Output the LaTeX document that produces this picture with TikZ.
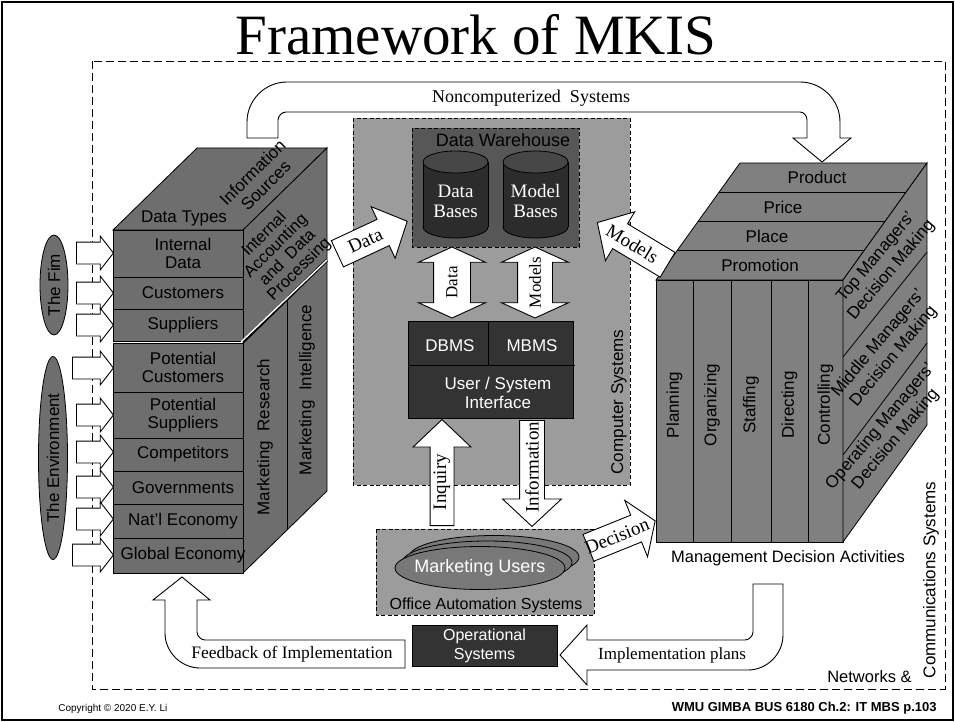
\documentclass[tikz,border=0pt]{standalone}
\usepackage{fontspec}
\setmainfont{Liberation Serif}
\setsansfont{Liberation Sans}
\usetikzlibrary{shapes.arrows, shapes.geometric, calc}

\definecolor{cubeleft}{HTML}{6E6E6E}
\definecolor{cuberight}{HTML}{808080}
\definecolor{csgray}{HTML}{9C9C9C}
\definecolor{dwgray}{HTML}{575757}
\definecolor{darkbox}{HTML}{333333}
\definecolor{cylbody}{HTML}{2C2C2C}
\definecolor{cyltop}{HTML}{474747}
\definecolor{usergray}{HTML}{787878}

\begin{document}
\begin{tikzpicture}[x=1pt, y=-1pt, line width=0.8pt,
    sanslbl/.style={font=\sffamily\fontsize{17}{18.5}\selectfont, align=center, inner sep=0pt},
    seriflbl/.style={font=\fontsize{19}{20}\selectfont, align=center, inner sep=0pt},
    mgrlbl/.style={font=\sffamily\fontsize{17}{20}\selectfont, align=center, inner sep=0pt, rotate=50},
    hollow/.style={draw=black, fill=white, line width=0.9pt},
    inarrow/.style={single arrow, hollow, inner xsep=0pt, inner ysep=10.5pt, anchor=tail, single arrow head extend=6pt, single arrow tip angle=104},
    bigarrow/.style={single arrow, hollow, inner xsep=0pt, anchor=tail},
    dblarrow/.style={double arrow, hollow, inner xsep=0pt, rotate=90, double arrow tip angle=131, minimum height=71pt},
    faceL/.style={draw=black, fill=cubeleft},
    faceR/.style={draw=black, fill=cuberight},
    dashbox/.style={draw=black, dash pattern=on 4pt off 2.5pt}]

    % ==================== frame and title ====================
    \useasboundingbox (0,0) rectangle (955,722);
    \fill[white] (0,0) rectangle (955,722);
    \draw[line width=1.3pt] (2,2) rectangle (953,720);
    \node[font=\fontsize{57}{60}\selectfont, anchor=base] (title) at (476,55) {Framework of MKIS};
    \draw[dash pattern=on 8pt off 4pt] (92,61) rectangle (945,689);
    \node[sanslbl, font=\sffamily\fontsize{16.5}{18}\selectfont, anchor=base east] (netw) at (912,682) {Networks \&};
    \node[sanslbl, rotate=90] (comms) at (931,580) {Communications Systems};

    % ==================== noncomputerized systems (U arrow) ====================
    \draw[hollow] (247,138) -- (247,122) .. controls (247,100) and (265,82) .. (287,82)
        -- (800,82) .. controls (822,82) and (840,100) .. (840,122) -- (840,138)
        -- (851,138) -- (822,162) -- (793,138) -- (807,138) -- (807,120)
        .. controls (807,116) and (804,112) .. (800,112) -- (286,112)
        .. controls (282,112) and (278,116) .. (278,120) -- (278,138) -- cycle;
    \node[seriflbl, font=\fontsize{18}{20}\selectfont] (noncomp) at (531,98) {Noncomputerized\ \ Systems};

    % ==================== left cube: information sources ====================
    \draw[faceL] (113,230) -- (197,148) -- (327,148) -- (243,230) -- cycle;
    \draw[faceL] (243,230) -- (327,148) -- (327,491) -- (243,573) -- cycle;
    \foreach \ya/\yb/\txt [count=\i] in {230/277/{Internal\\Data}, 277/309/Customers, 309/341/Suppliers,
        343/392/{Potential\\Customers}, 392/438/{Potential\\Suppliers}, 438/471/Competitors,
        471/504/Governments, 504/538/Nat'l Economy, 538/573/Global Economy} {
      \draw[faceL] (113,\ya) rectangle (243,\yb);
      \node[sanslbl] (row\i) at (183,{(\ya+\yb)/2}) {\txt};
    }
    % separator between firm and environment
    \draw[line width=3pt] (243,342) -- (327,260);
    \draw[white, line width=1.4pt] (241,342) -- (327,260);
    \draw (287,299) -- (287,530);
    \node[sanslbl] (dtypes) at (184,218) {Data Types};
    \node[sanslbl, rotate=45] (isrc) at (259,179) {Information\\Sources};
    \node[sanslbl, rotate=45, font=\sffamily\fontsize{16.5}{16.5}\selectfont] (iadp) at (282,252) {Internal\\Accounting\\and\ \ Data\\Processing};
    \node[sanslbl, rotate=90] (mres) at (265,437) {Marketing\ \ Research};
    \node[sanslbl, rotate=90] (mint) at (307,390) {Marketing\ \ Intelligence};

    % the firm / the environment
    \node[faceL, ellipse, rotate=90, minimum width=100pt, minimum height=28pt, sanslbl] (firm) at (54,285) {The Fim};
    \node[faceL, ellipse, rotate=90, minimum width=203pt, minimum height=29pt, sanslbl] (envir) at (53,458) {The Environment};

    % inputs into the data types
    \foreach \y/\x [count=\i] in {253/76, 293/76, 325/76, 368/72, 415/76, 452/76, 487/76, 519/76, 555/72}
      \node[inarrow, minimum height={113-\x}] (in\i) at (\x,\y) {};

    % ==================== computer systems ====================
    \draw[dashbox, fill=csgray] (353,118) rectangle (630,485);
    \node[sanslbl, rotate=90] (cpsys) at (619,402) {Computer Systems};
    \draw[dashbox, fill=dwgray] (412,128) rectangle (579,247);
    \node[sanslbl, font=\sffamily\fontsize{18}{20}\selectfont] (dwh) at (503,140) {Data Warehouse};

    % data bases / model bases cylinders
    \foreach \cx/\txt [count=\i] in {455.5/{Data\\Bases}, 535.5/{Model\\Bases}} {
      \draw[fill=cylbody] (\cx,227) ellipse (32.5 and 11);
      \fill[cylbody] ({\cx-32.5},162) rectangle ({\cx+32.5},227);
      \draw ({\cx-32.5},162) -- ({\cx-32.5},227) ({\cx+32.5},162) -- ({\cx+32.5},227);
      \draw[fill=cyltop] (\cx,162) ellipse (32.5 and 11);
      \node[seriflbl, text=white] (base\i) at (\cx,201) {\txt};
    }

    % data / models double arrows
    \node[dblarrow, inner ysep=18pt, double arrow head extend=15pt] (dwdata) at (452,282.5) {};
    \node[seriflbl, font=\fontsize{17}{19}\selectfont, rotate=90] (dwdatalbl) at (dwdata) {Data};
    \node[dblarrow, inner ysep=17pt, double arrow head extend=16pt] (dwmodels) at (535,282.5) {};
    \node[seriflbl, font=\fontsize{17}{19}\selectfont, rotate=90] (dwmodelslbl) at (dwmodels) {Models};

    % DBMS / MBMS / interface
    \draw[fill=darkbox] (408,321) rectangle (573,418);
    \draw (408,365) -- (575,365);
    \draw (488,321) -- (488,365);
    \node[sanslbl, text=white] (dbms) at (450,346) {DBMS};
    \node[sanslbl, text=white] (mbms) at (532,346) {MBMS};
    \node[sanslbl, text=white] (usi) at (498,393) {User / System\\Interface};

    % ==================== office automation ====================
    \draw[dashbox, fill=csgray] (376,529) rectangle (594,615);
    \draw[fill=usergray] (494,557) ellipse (85 and 21.5);
    \draw[fill=usergray] (487,562.5) ellipse (85 and 21.5);
    \draw[fill=usergray] (480,568) ellipse (85 and 21.5);
    \node[sanslbl, font=\sffamily\fontsize{18}{20}\selectfont, text=white] (musers) at (480,568) {Marketing Users};
    \node[sanslbl, font=\sffamily\fontsize{16}{18}\selectfont] (oas) at (486,605) {Office Automation Systems};

    % inquiry / information
    \node[bigarrow, rotate=90, minimum height=106pt, inner ysep=11.5pt, single arrow head extend=17pt, single arrow tip angle=93] (inq) at (442,526) {};
    \node[seriflbl, rotate=90] (inqlbl) at ($(inq.tail)!0.41!(inq.tip)$) {Inquiry};
    \node[bigarrow, rotate=-90, minimum height=106pt, inner ysep=12pt, single arrow head extend=17pt, single arrow tip angle=94] (info) at (532,420) {};
    \node[seriflbl, rotate=90] (infolbl) at ($(info.tail)!0.44!(info.tip)$) {Information};

    % ==================== right cube: management decision activities ====================
    \draw[faceR] (656,280) -- (740,163) -- (927,163) -- (843,280) -- cycle;
    \draw (719.2,192) -- (906.2,192);
    \draw (698.4,221) -- (885.4,221);
    \draw (677.5,250) -- (864.5,250);
    \node[sanslbl] (prod) at (817,177) {Product};
    \node[sanslbl] (price) at (783,207) {Price};
    \node[sanslbl] (place) at (767,236) {Place};
    \node[sanslbl] (promo) at (760,265) {Promotion};
    \foreach \xa/\xb/\txt [count=\i] in {656/693/Planning, 693/731/Organizing, 731/771/Staffing, 771/808/Directing, 808/843/Controlling} {
      \draw[faceR] (\xa,280) rectangle (\xb,542);
      \node[sanslbl, rotate=90] (act\i) at ({(\xa+\xb)/2},405) {\txt};
    }
    \draw[faceR] (843,280) -- (927,163) -- (927,425) -- (843,542) -- cycle;
    \draw (843,357) -- (927,252);
    \draw (843,455) -- (927,343);
    \node[mgrlbl] (topm) at (884,264) {Top Managers'\\Decision Making};
    \node[mgrlbl] (midm) at (886,350) {Middle Managers'\\Decision Making};
    \node[mgrlbl] (opm) at (888,433) {Operating Managers'\\Decision Making};
    \node[sanslbl, font=\sffamily\fontsize{16.5}{18}\selectfont] (mda) at (788,558) {Management Decision Activities};

    % ==================== data / models / decision arrows ====================
    \node[bigarrow, rotate=25, minimum height=77pt, inner ysep=14pt, single arrow head extend=14pt, single arrow tip angle=94] (dataarr) at (337,254) {};
    \node[seriflbl, rotate=25] (datalbl) at ($(dataarr.tail)!0.4!(dataarr.tip)$) {Data};
    \node[bigarrow, rotate=149, minimum height=82pt, inner ysep=14pt, single arrow head extend=14pt, single arrow tip angle=94] (modarr) at (668,265) {};
    \node[seriflbl, rotate=-31] (modlbl) at ($(modarr.tail)!0.5!(modarr.tip)$) {Models};
    \node[bigarrow, rotate=22, minimum height=72pt, inner ysep=14pt, single arrow head extend=16pt, single arrow tip angle=112] (decarr) at (588,548) {};
    \node[seriflbl, rotate=22] (declbl) at ($(decarr.tail)!0.43!(decarr.tip)$) {Decision};

    % ==================== implementation loop ====================
    \node[draw, fill=darkbox, minimum width=145pt, minimum height=41pt, sanslbl, font=\sffamily\fontsize{16}{19}\selectfont, text=white] (opsys) at (484.5,645.5) {Operational\\Systems};
    \draw[hollow] (753,584) -- (783,584) -- (783,635) .. controls (783,654) and (767,670) .. (748,670)
        -- (587,670) -- (587,685) -- (560,655) -- (587,625) -- (587,640) -- (745,640)
        .. controls (749,640) and (753,636) .. (753,632) -- cycle;
    \node[seriflbl, font=\fontsize{17}{19}\selectfont] (implbl) at (672,655) {Implementation plans};
    \draw[hollow] (405,640) -- (205,640) .. controls (201,640) and (197,636) .. (197,632)
        -- (197,600) -- (210,600) -- (182,577) -- (153,600) -- (165,600) -- (165,633)
        .. controls (165,652) and (181,668) .. (200,668) -- (405,668) -- cycle;
    \node[seriflbl, font=\fontsize{17.5}{19}\selectfont] (fblbl) at (292,654) {Feedback of Implementation};

    % ==================== footer ====================
    \node[font=\sffamily\fontsize{10}{12}\selectfont, anchor=base west, inner sep=0pt] (copyr) at (58,711) {Copyright © 2020 E.Y. Li};
    \node[font=\sffamily\bfseries\fontsize{13}{15}\selectfont, anchor=base east, inner sep=0pt] (pgref) at (937,711) {WMU GIMBA BUS 6180 Ch.2: IT MBS p.103};
\end{tikzpicture}
\end{document}
